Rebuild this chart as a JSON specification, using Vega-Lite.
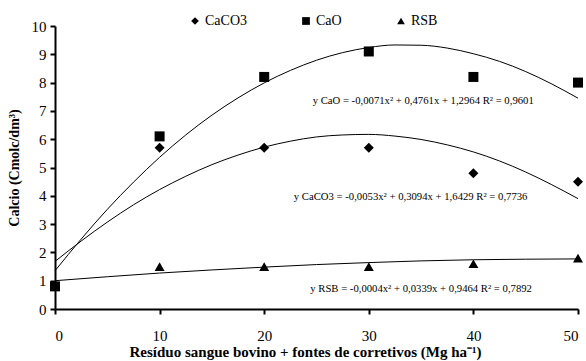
{
  "$schema": "https://vega.github.io/schema/vega-lite/v6.json",
  "width": 523,
  "height": 283,
  "autosize": "none",
  "padding": {"left": 55, "top": 26, "right": 8, "bottom": 52},
  "background": "white",
  "config": {
    "view": {"stroke": null},
    "font": "Liberation Serif",
    "axis": {"grid": false, "domainColor": "black", "tickColor": "black", "labelColor": "black", "titleColor": "black", "labelOverlap": false}
  },
  "datasets": {
    "pts": [
      {"x": 0, "y": 0.8, "s": "CaCO3"}, {"x": 10, "y": 5.7, "s": "CaCO3"}, {"x": 20, "y": 5.7, "s": "CaCO3"}, {"x": 30, "y": 5.7, "s": "CaCO3"}, {"x": 40, "y": 4.8, "s": "CaCO3"}, {"x": 50, "y": 4.5, "s": "CaCO3"},
      {"x": 0, "y": 0.8, "s": "RSB"}, {"x": 10, "y": 1.5, "s": "RSB"}, {"x": 20, "y": 1.5, "s": "RSB"}, {"x": 30, "y": 1.5, "s": "RSB"}, {"x": 40, "y": 1.6, "s": "RSB"}, {"x": 50, "y": 1.8, "s": "RSB"},
      {"x": 0, "y": 0.8, "s": "CaO"}, {"x": 10, "y": 6.1, "s": "CaO"}, {"x": 20, "y": 8.2, "s": "CaO"}, {"x": 30, "y": 9.1, "s": "CaO"}, {"x": 40, "y": 8.2, "s": "CaO"}, {"x": 50, "y": 8.0, "s": "CaO"}
    ],
    "curves": [
      {"x": 0, "y": 1.35, "s": "CaO"}, {"x": 2.5, "y": 2.47, "s": "CaO"}, {"x": 5, "y": 3.52, "s": "CaO"}, {"x": 7.5, "y": 4.48, "s": "CaO"}, {"x": 10, "y": 5.36, "s": "CaO"}, {"x": 12.5, "y": 6.15, "s": "CaO"}, {"x": 15, "y": 6.85, "s": "CaO"}, {"x": 17.5, "y": 7.46, "s": "CaO"}, {"x": 20, "y": 7.99, "s": "CaO"}, {"x": 22.5, "y": 8.43, "s": "CaO"}, {"x": 25, "y": 8.79, "s": "CaO"}, {"x": 27.5, "y": 9.06, "s": "CaO"}, {"x": 30, "y": 9.24, "s": "CaO"}, {"x": 32.5, "y": 9.33, "s": "CaO"}, {"x": 35, "y": 9.32, "s": "CaO"}, {"x": 37.5, "y": 9.22, "s": "CaO"}, {"x": 40, "y": 9.02, "s": "CaO"}, {"x": 42.5, "y": 8.75, "s": "CaO"}, {"x": 45, "y": 8.39, "s": "CaO"}, {"x": 47.5, "y": 7.95, "s": "CaO"}, {"x": 50, "y": 7.45, "s": "CaO"},
      {"x": 0, "y": 1.68, "s": "CaCO3"}, {"x": 2.5, "y": 2.4, "s": "CaCO3"}, {"x": 5, "y": 3.07, "s": "CaCO3"}, {"x": 7.5, "y": 3.68, "s": "CaCO3"}, {"x": 10, "y": 4.22, "s": "CaCO3"}, {"x": 12.5, "y": 4.69, "s": "CaCO3"}, {"x": 15, "y": 5.1, "s": "CaCO3"}, {"x": 17.5, "y": 5.44, "s": "CaCO3"}, {"x": 20, "y": 5.72, "s": "CaCO3"}, {"x": 22.5, "y": 5.93, "s": "CaCO3"}, {"x": 25, "y": 6.08, "s": "CaCO3"}, {"x": 27.5, "y": 6.15, "s": "CaCO3"}, {"x": 30, "y": 6.17, "s": "CaCO3"}, {"x": 32.5, "y": 6.11, "s": "CaCO3"}, {"x": 35, "y": 5.99, "s": "CaCO3"}, {"x": 37.5, "y": 5.8, "s": "CaCO3"}, {"x": 40, "y": 5.55, "s": "CaCO3"}, {"x": 42.5, "y": 5.23, "s": "CaCO3"}, {"x": 45, "y": 4.84, "s": "CaCO3"}, {"x": 47.5, "y": 4.39, "s": "CaCO3"}, {"x": 50, "y": 3.9, "s": "CaCO3"},
      {"x": 0, "y": 1.0, "s": "RSB"}, {"x": 5, "y": 1.14, "s": "RSB"}, {"x": 10, "y": 1.27, "s": "RSB"}, {"x": 15, "y": 1.38, "s": "RSB"}, {"x": 20, "y": 1.48, "s": "RSB"}, {"x": 25, "y": 1.57, "s": "RSB"}, {"x": 30, "y": 1.64, "s": "RSB"}, {"x": 35, "y": 1.7, "s": "RSB"}, {"x": 40, "y": 1.74, "s": "RSB"}, {"x": 45, "y": 1.76, "s": "RSB"}, {"x": 50, "y": 1.77, "s": "RSB"}
    ],
    "labels": [
      {"x": 35.2, "y": 7.35, "t": "y CaO  = -0,0071x² + 0,4761x + 1,2964 R² = 0,9601"},
      {"x": 34.0, "y": 3.96, "t": "y  CaCO3 = -0,0053x² + 0,3094x + 1,6429 R² = 0,7736"},
      {"x": 35.0, "y": 0.71, "t": "y RSB = -0,0004x² + 0,0339x + 0,9464 R² = 0,7892"}
    ]
  },
  "encoding": {
    "x": {"field": "x", "type": "quantitative", "scale": {"domain": [0, 50], "nice": false},
      "axis": {"values": [0, 10, 20, 30, 40, 50], "labelOverlap": false, "title": "Resíduo sangue bovino  + fontes de corretivos  (Mg ha⁻¹)", "titleX": 250, "titleFontWeight": "bold", "titleFontSize": 15, "titlePadding": 1, "labelFontSize": 15, "labelPadding": 14, "tickSize": 5, "domainWidth": 2, "tickWidth": 2}},
    "y": {"field": "y", "type": "quantitative", "scale": {"domain": [0, 10], "nice": false},
      "axis": {"values": [0, 1, 2, 3, 4, 5, 6, 7, 8, 9, 10], "labelOverlap": false, "labelFontSize": 15, "title": "Calcio (Cmolc/dm³)", "titleFontWeight": "bold", "titleFontSize": 14, "titlePadding": 10, "labelPadding": 4, "tickSize": 5, "domainWidth": 2, "tickWidth": 2}}
  },
  "layer": [
    {
      "data": {"name": "curves"},
      "mark": {"type": "line", "color": "black", "strokeWidth": 1, "interpolate": "monotone"},
      "encoding": {"detail": {"field": "s"}}
    },
    {
      "data": {"name": "pts"},
      "mark": {"type": "point", "filled": true, "color": "black", "opacity": 1, "size": 100},
      "encoding": {
        "shape": {"field": "s", "type": "nominal",
          "scale": {"domain": ["CaCO3", "CaO", "RSB"], "range": ["diamond", "square", "triangle-up"]},
          "legend": {"title": null, "orient": "none", "direction": "horizontal", "legendX": 133, "legendY": -12, "labelFontSize": 14, "labelColor": "black", "symbolFillColor": "black", "symbolStrokeColor": "black", "symbolSize": 60, "labelOffset": 3, "columnPadding": 52, "symbolOpacity": 1}}
      }
    },
    {
      "data": {"name": "labels"},
      "mark": {"type": "text", "fontSize": 10.7},
      "encoding": {"text": {"field": "t"}}
    }
  ]
}
